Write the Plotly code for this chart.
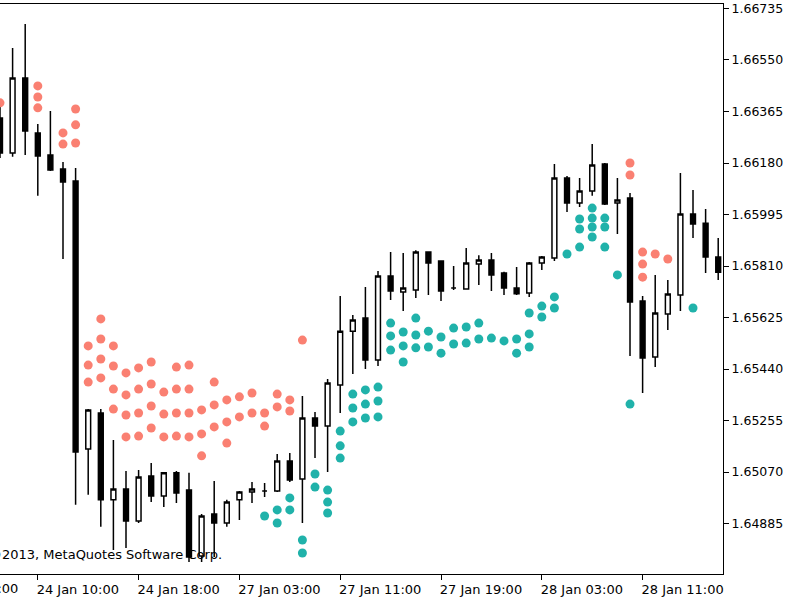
import plotly.graph_objects as go

# ---------------- data (EURUSD-like H1, bar index along x) ----------------
bars = list(range(58))
opens = [1.66342, 1.66216, 1.66485, 1.66288, 1.66209, 1.66158, 1.66115, 1.65153, 1.65282, 1.64970,
         1.65009, 1.64894, 1.65056, 1.64984, 1.65067, 1.65005, 1.64768, 1.64919, 1.64887, 1.64970,
         1.64998, 1.65002, 1.65002, 1.65110, 1.65045, 1.65264, 1.65235, 1.65383, 1.65576, 1.65623,
         1.65472, 1.65774, 1.65717, 1.65724, 1.65860, 1.65828, 1.65731, 1.65727, 1.65817, 1.65832,
         1.65785, 1.65731, 1.65713, 1.65821, 1.65839, 1.66126, 1.66036, 1.66079, 1.66176, 1.66036,
         1.66054, 1.65684, 1.65483, 1.65638, 1.65706, 1.65997, 1.65964, 1.65842]
highs = [1.66406, 1.66593, 1.66679, 1.66320, 1.66367, 1.66184, 1.66162, 1.65296, 1.65296, 1.65185,
         1.65074, 1.65077, 1.65102, 1.65070, 1.65074, 1.65067, 1.64919, 1.65038, 1.64970, 1.65002,
         1.65034, 1.65031, 1.65135, 1.65138, 1.65343, 1.65286, 1.65404, 1.65702, 1.65634, 1.65735,
         1.65792, 1.65860, 1.65857, 1.65867, 1.65862, 1.65830, 1.65810, 1.65875, 1.65849, 1.65857,
         1.65789, 1.65806, 1.65824, 1.65846, 1.66176, 1.66133, 1.66126, 1.66248, 1.66180, 1.66126,
         1.66072, 1.65702, 1.65778, 1.65760, 1.66144, 1.66083, 1.66015, 1.65911]
lows = [1.66198, 1.66202, 1.66209, 1.66062, 1.66151, 1.65835, 1.64952, 1.64988, 1.64873, 1.64790,
        1.64797, 1.64887, 1.64962, 1.64944, 1.64959, 1.64747, 1.64747, 1.64765, 1.64873, 1.64898,
        1.64959, 1.64980, 1.64998, 1.65034, 1.64887, 1.65120, 1.65070, 1.65282, 1.65422, 1.65440,
        1.65451, 1.65688, 1.65648, 1.65695, 1.65706, 1.65684, 1.65724, 1.65727, 1.65742, 1.65720,
        1.65706, 1.65706, 1.65699, 1.65796, 1.65828, 1.66004, 1.66022, 1.66062, 1.66029, 1.65925,
        1.65487, 1.65354, 1.65447, 1.65580, 1.65648, 1.65911, 1.65785, 1.65760]
closes = [1.66216, 1.66485, 1.66295, 1.66205, 1.66155, 1.66112, 1.65142, 1.65293, 1.64970, 1.65009,
          1.64894, 1.65052, 1.64984, 1.65067, 1.64995, 1.64765, 1.64912, 1.64887, 1.64962, 1.64998,
          1.65009, 1.65002, 1.65110, 1.65041, 1.65264, 1.65235, 1.65390, 1.65576, 1.65616, 1.65472,
          1.65774, 1.65720, 1.65731, 1.65860, 1.65821, 1.65720, 1.65731, 1.65821, 1.65832, 1.65778,
          1.65731, 1.65710, 1.65821, 1.65842, 1.66126, 1.66036, 1.66079, 1.66173, 1.66033, 1.66047,
          1.65681, 1.65480, 1.65641, 1.65709, 1.65997, 1.65961, 1.65842, 1.65788]

# indicator dots (bar index -> price levels)
upper_bars = [0, 3, 5, 6, 7, 8, 9, 10, 11, 12, 13, 14, 15, 16, 17, 18, 19, 20, 21, 22, 23, 24,
              50, 51, 52, 53]
upper_levels = [
    [1.66396],
    [1.66457, 1.66417, 1.66378],
    [1.66288, 1.66248],
    [1.66374, 1.66317, 1.66252],
    [1.65523, 1.65454, 1.65393],
    [1.65620, 1.65548, 1.65476, 1.65408],
    [1.65523, 1.65451, 1.65368, 1.65296],
    [1.65426, 1.65347, 1.65275, 1.65196],
    [1.65444, 1.65368, 1.65282, 1.65199],
    [1.65465, 1.65386, 1.65307, 1.65228],
    [1.65357, 1.65278, 1.65196],
    [1.65447, 1.65368, 1.65282, 1.65199],
    [1.65454, 1.65368, 1.65282, 1.65196],
    [1.65293, 1.65207, 1.65128],
    [1.65393, 1.65311, 1.65232],
    [1.65329, 1.65250, 1.65174],
    [1.65340, 1.65268],
    [1.65354, 1.65282],
    [1.65282, 1.65235],
    [1.65350, 1.65304],
    [1.65329, 1.65289],
    [1.65544],
    [1.66180, 1.66137],
    [1.65860, 1.65817, 1.65770],
    [1.65853],
    [1.65835],
]
lower_bars = [21, 22, 23, 24, 25, 26, 27, 28, 29, 30, 31, 32, 33, 34, 35, 36, 37, 38, 39, 40,
              41, 42, 43, 44, 45, 46, 47, 48, 49, 50, 55]
lower_levels = [
    [1.64912],
    [1.64934, 1.64887],
    [1.64977, 1.64934],
    [1.64826, 1.64779],
    [1.65063, 1.65016],
    [1.65005, 1.64962, 1.64923],
    [1.65217, 1.65164, 1.65120],
    [1.65350, 1.65300, 1.65250],
    [1.65365, 1.65314, 1.65264],
    [1.65375, 1.65325, 1.65268],
    [1.65605, 1.65559, 1.65508],
    [1.65573, 1.65523, 1.65465],
    [1.65623, 1.65562, 1.65516],
    [1.65576, 1.65519],
    [1.65555, 1.65497],
    [1.65587, 1.65530],
    [1.65591, 1.65533],
    [1.65605, 1.65548],
    [1.65551],
    [1.65541],
    [1.65548, 1.65497],
    [1.65641, 1.65566, 1.65519],
    [1.65666, 1.65627],
    [1.65699, 1.65659],
    [1.65853],
    [1.65979, 1.65943, 1.65878],
    [1.66018, 1.65982, 1.65950, 1.65914],
    [1.65982, 1.65950, 1.65878],
    [1.65778],
    [1.65314],
    [1.65659],
]

price_ticks = [1.66735, 1.66550, 1.66365, 1.66180, 1.65995, 1.65810,
               1.65625, 1.65440, 1.65255, 1.65070, 1.64885]
time_tick_bars = [3, 11, 19, 27, 35, 43, 51]
time_tick_labels = ["24 Jan 10:00", "24 Jan 18:00", "27 Jan 03:00", "27 Jan 11:00",
                    "27 Jan 19:00", "28 Jan 03:00", "28 Jan 11:00"]
cut_label = "24 Jan 02:00"
copyright_text = "\u00a92013, MetaQuotes Software Corp."

# ---------------- figure ----------------
FONT = "DejaVu Sans"

def flatten(bs, lv):
    xs, ys = [], []
    for b, levels in zip(bs, lv):
        for p in levels:
            xs.append(b)
            ys.append(p)
    return xs, ys

ux, uy = flatten(upper_bars, upper_levels)
lx, ly = flatten(lower_bars, lower_levels)

fig = go.Figure()
fig.add_trace(go.Candlestick(
    x=bars, open=opens, high=highs, low=lows, close=closes,
    increasing=dict(line=dict(color="black", width=1.5), fillcolor="white"),
    decreasing=dict(line=dict(color="black", width=1.5), fillcolor="black"),
    whiskerwidth=0, showlegend=False, hoverinfo="skip",
))
fig.add_trace(go.Scatter(x=ux, y=uy, mode="markers",
                         marker=dict(color="#FA8072", size=9, line=dict(width=0)),
                         showlegend=False, hoverinfo="skip"))
fig.add_trace(go.Scatter(x=lx, y=ly, mode="markers",
                         marker=dict(color="#20B2AA", size=9, line=dict(width=0)),
                         showlegend=False, hoverinfo="skip"))

fig.update_layout(
    width=800, height=600,
    margin=dict(l=0, r=77, t=4, b=26, autoexpand=False),
    paper_bgcolor="white", plot_bgcolor="white",
    boxgap=0.45,
    font=dict(family=FONT, size=13, color="black"),
    xaxis=dict(
        type="linear", range=[0.0, 57.38],
        rangeslider=dict(visible=False),
        showgrid=False, zeroline=False,
        showline=True, linecolor="black", linewidth=1, mirror=True,
        tickmode="array", tickvals=time_tick_bars, ticktext=time_tick_labels,
        ticks="outside", ticklen=5, tickcolor="black", tickwidth=1,
        ticklabelshift=40, ticklabelstandoff=-2,
        tickfont=dict(family=FONT, size=13, color="black"),
    ),
    yaxis=dict(
        side="right", range=[1.647037, 1.667511],
        showgrid=False, zeroline=False,
        showline=True, linecolor="black", linewidth=1,
        tickmode="array", tickvals=price_ticks, tickformat=".5f",
        ticks="outside", ticklen=5, tickcolor="black", tickwidth=1,
        tickfont=dict(family=FONT, size=12.5, color="black"),
    ),
    annotations=[
        dict(text=copyright_text, xref="paper", yref="paper", x=0, y=0,
             xanchor="left", yanchor="bottom", xshift=-13, yshift=10,
             showarrow=False, font=dict(family=FONT, size=13, color="black")),
        dict(text=cut_label, xref="paper", yref="paper", x=0, y=0,
             xanchor="right", yanchor="top", xshift=20, yshift=-5,
             showarrow=False, font=dict(family=FONT, size=13, color="black")),
    ],
)

fig.write_html("out.html")
